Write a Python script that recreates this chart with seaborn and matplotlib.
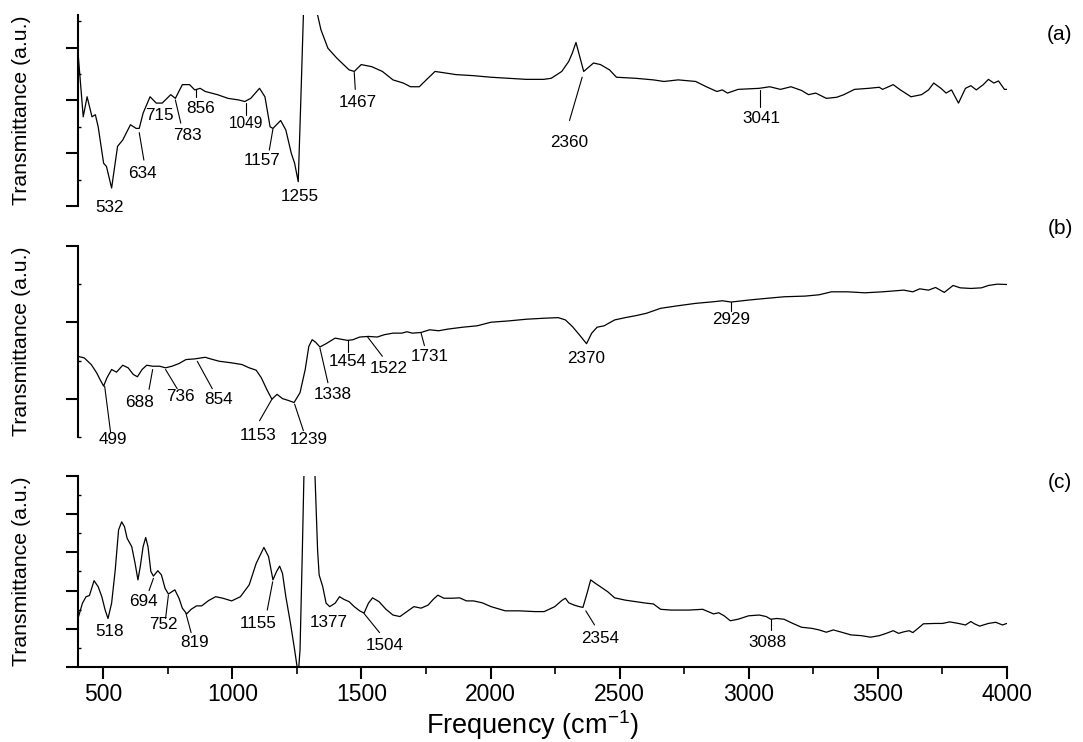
import numpy as np
import pandas as pd
import matplotlib
matplotlib.use("Agg")
import matplotlib.pyplot as plt
import seaborn as sns

# ---------------- data ----------------
wn_a = [400, 422, 437, 456, 469, 480, 501, 512, 532, 555, 575, 605, 627, 639, 654, 681, 705, 728,
        761, 779, 806, 834, 854, 875, 895, 942, 983, 1024, 1048, 1071, 1105, 1126, 1146, 1157,
        1187, 1207, 1228, 1241, 1255, 1265, 1275, 1290, 1310, 1330, 1343, 1370, 1405, 1452, 1472,
        1499, 1540, 1581, 1622, 1662, 1690, 1724, 1751, 1785, 1826, 1866, 1934, 2002, 2070, 2138,
        2206, 2235, 2276, 2303, 2317, 2331, 2361, 2399, 2426, 2461, 2488, 2563, 2631, 2672, 2727,
        2795, 2836, 2877, 2898, 2918, 2959, 3041, 3082, 3123, 3164, 3205, 3232, 3260, 3301, 3341,
        3369, 3410, 3465, 3506, 3519, 3560, 3588, 3629, 3670, 3697, 3717, 3745, 3765, 3786, 3813,
        3840, 3861, 3882, 3909, 3929, 3950, 3968, 3991, 4000]
tr_a = [3.02, 1.69, 2.07, 1.69, 1.73, 1.50, 0.81, 0.75, 0.34, 1.13, 1.25, 1.54, 1.47, 1.47, 1.76, 2.07,
        1.95, 1.95, 2.11, 2.04, 2.30, 2.30, 2.20, 2.23, 2.17, 2.11, 2.04, 2.01, 1.98, 2.04, 2.23, 2.07,
        1.50, 1.47, 1.62, 1.44, 1.00, 0.81, 0.46, 2.00, 3.62, 5.00, 5.00, 3.62, 3.34, 2.99, 2.80, 2.58,
        2.55, 2.68, 2.64, 2.55, 2.39, 2.33, 2.26, 2.26, 2.39, 2.55, 2.52, 2.49, 2.47, 2.44, 2.42, 2.40,
        2.40, 2.42, 2.55, 2.74, 2.90, 3.10, 2.55, 2.71, 2.68, 2.58, 2.44, 2.42, 2.39, 2.36, 2.39,
        2.36, 2.26, 2.17, 2.20, 2.14, 2.21, 2.23, 2.26, 2.21, 2.26, 2.19, 2.11, 2.14, 2.04, 2.06,
        2.11, 2.21, 2.23, 2.25, 2.21, 2.30, 2.20, 2.07, 2.11, 2.20, 2.33, 2.23, 2.14, 2.20, 1.95,
        2.23, 2.28, 2.20, 2.30, 2.40, 2.33, 2.37, 2.21, 2.21]

wn_b = [400, 426, 453, 474, 487, 501, 514, 532, 551, 575, 596, 616, 632, 650, 668, 691, 718, 741,
        766, 793, 820, 854, 895, 915, 949, 997, 1037, 1065, 1092, 1112, 1133, 1153, 1173, 1194,
        1214, 1239, 1262, 1282, 1296, 1309, 1323, 1339, 1363, 1398, 1418, 1446, 1467, 1493, 1527,
        1561, 1588, 1622, 1656, 1676, 1697, 1731, 1764, 1799, 1833, 1893, 1948, 2002, 2070, 2138,
        2206, 2262, 2290, 2317, 2344, 2372, 2392, 2413, 2440, 2481, 2522, 2563, 2604, 2659, 2727,
        2795, 2864, 2898, 2932, 3000, 3068, 3137, 3219, 3273, 3321, 3383, 3451, 3519, 3601, 3636,
        3663, 3697, 3724, 3758, 3792, 3820, 3861, 3902, 3929, 3963, 4000]
tr_b = [1.056, 1.035, 0.948, 0.840, 0.753, 0.666, 0.775, 0.883, 0.848, 0.939, 0.905, 0.818, 0.788,
        0.883, 0.939, 0.926, 0.926, 0.905, 0.926, 0.961, 1.013, 1.022, 1.043, 1.022, 0.991, 0.970,
        0.948, 0.905, 0.874, 0.775, 0.623, 0.494, 0.558, 0.502, 0.481, 0.451, 0.580, 0.883, 1.186,
        1.273, 1.238, 1.178, 1.221, 1.294, 1.281, 1.264, 1.273, 1.308, 1.316, 1.308, 1.338, 1.359,
        1.359, 1.377, 1.359, 1.368, 1.403, 1.390, 1.411, 1.437, 1.455, 1.502, 1.519, 1.541, 1.554,
        1.562, 1.532, 1.446, 1.338, 1.221, 1.359, 1.437, 1.455, 1.532, 1.562, 1.588, 1.619, 1.684,
        1.718, 1.749, 1.770, 1.783, 1.766, 1.792, 1.814, 1.835, 1.844, 1.861, 1.900, 1.900, 1.887,
        1.900, 1.922, 1.900, 1.939, 1.922, 1.957, 1.892, 1.983, 1.952, 1.944, 1.952, 1.983, 2.000,
        1.996]

wn_c = [400, 419, 433, 446, 464, 480, 494, 507, 518, 532, 546, 559, 571, 582, 592, 610, 623, 634,
        643, 654, 664, 673, 684, 694, 711, 725, 739, 752, 766, 777, 793, 806, 823, 840, 861, 881,
        908, 935, 963, 997, 1031, 1065, 1092, 1122, 1140, 1157, 1171, 1183, 1194, 1207, 1225, 1241,
        1255, 1262, 1271, 1277, 1290, 1310, 1320, 1330, 1336, 1350, 1363, 1377, 1398, 1415, 1432,
        1452, 1472, 1493, 1510, 1527, 1543, 1568, 1595, 1622, 1649, 1676, 1703, 1731, 1758, 1778,
        1796, 1819, 1853, 1880, 1907, 1934, 1968, 2002, 2057, 2111, 2172, 2208, 2249, 2276, 2290,
        2303, 2324, 2344, 2358, 2374, 2388, 2406, 2426, 2454, 2481, 2522, 2563, 2604, 2631, 2659,
        2700, 2768, 2822, 2843, 2864, 2884, 2905, 2929, 2959, 3000, 3041, 3068, 3086, 3109, 3137,
        3171, 3205, 3246, 3273, 3301, 3328, 3355, 3396, 3437, 3472, 3506, 3533, 3560, 3581, 3601,
        3622, 3636, 3656, 3677, 3724, 3751, 3779, 3813, 3840, 3861, 3875, 3895, 3929, 3957, 3984,
        4000]
tr_c = [1.23, 1.67, 1.84, 1.87, 2.26, 2.10, 1.84, 1.49, 1.27, 1.67, 2.54, 3.59, 3.80, 3.67, 3.37,
        3.15, 2.71, 2.28, 2.63, 3.15, 3.39, 3.15, 2.50, 2.38, 2.52, 2.41, 2.06, 1.91, 1.97, 2.02,
        1.80, 1.54, 1.39, 1.51, 1.60, 1.60, 1.74, 1.84, 1.80, 1.73, 1.84, 2.15, 2.71, 3.13, 2.89,
        2.28, 2.50, 2.64, 2.45, 1.84, 1.14, 0.45, -0.20, 0.45, 3.06, 5.00, 6.00, 6.00, 5.00, 3.06,
        2.41, 2.10, 1.67, 1.58, 1.67, 1.84, 1.77, 1.71, 1.58, 1.47, 1.41, 1.67, 1.81, 1.71, 1.51,
        1.36, 1.32, 1.45, 1.58, 1.54, 1.62, 1.77, 1.88, 1.80, 1.80, 1.81, 1.73, 1.73, 1.68, 1.58,
        1.47, 1.47, 1.45, 1.45, 1.58, 1.74, 1.80, 1.68, 1.62, 1.58, 1.56, 1.93, 2.28, 2.19, 2.10,
        1.97, 1.81, 1.75, 1.71, 1.67, 1.65, 1.51, 1.49, 1.49, 1.51, 1.45, 1.39, 1.42, 1.34, 1.21,
        1.25, 1.34, 1.36, 1.32, 1.25, 1.27, 1.25, 1.14, 1.04, 1.01, 0.97, 0.91, 0.97, 0.92, 0.84,
        0.82, 0.78, 0.82, 0.88, 0.95, 0.88, 0.92, 0.95, 0.90, 1.01, 1.13, 1.14, 1.14, 1.18, 1.14,
        1.10, 1.19, 1.13, 1.07, 1.14, 1.17, 1.10, 1.14]

panel_labels = ["(a)", "(b)", "(c)"]
x_ticks = [500, 1000, 1500, 2000, 2500, 3000, 3500, 4000]
x_minor = [750, 1250, 1750, 2250, 2750, 3250, 3750]

# peak labels: text, text x, text y, leader (x0, y0, x1, y1) or None, small font flag
peaks_a = [("532", 524, -0.02, None, False),
           ("634", 650, 0.62, (639, 1.39, 657, 0.87), False),
           ("715", 718, 1.71, None, False),
           ("783", 824, 1.33, (779, 2.01, 800, 1.57), False),
           ("856", 875, 1.85, (857, 2.21, 857, 2.07), False),
           ("1049", 1051, 1.56, (1051, 1.96, 1051, 1.73), True),
           ("1157", 1116, 0.86, (1157, 1.46, 1143, 1.06), False),
           ("1255", 1262, 0.18, None, False),
           ("1467", 1486, 1.96, (1472, 2.53, 1476, 2.21), False),
           ("2360", 2303, 1.20, (2355, 2.44, 2306, 1.62), False),
           ("3041", 3048, 1.65, (3044, 2.19, 3044, 1.87), False)]
peaks_b = [("499", 535, -0.035, (505, 0.666, 528, 0.061), False),
           ("688", 641, 0.45, (691, 0.883, 677, 0.623), False),
           ("736", 797, 0.536, (741, 0.883, 786, 0.632), False),
           ("854", 945, 0.49, (864, 0.99, 922, 0.632), False),
           ("1153", 1098, 0.017, (1153, 0.494, 1105, 0.212), False),
           ("1239", 1296, -0.035, (1241, 0.43, 1275, 0.082), False),
           ("1338", 1388, 0.558, (1339, 1.165, 1370, 0.71), False),
           ("1454", 1446, 0.99, (1446, 1.264, 1446, 1.108), False),
           ("1522", 1606, 0.892, (1524, 1.308, 1581, 1.056), False),
           ("1731", 1764, 1.056, (1731, 1.359, 1744, 1.195), False),
           ("2370", 2369, 1.022, None, False),
           ("2929", 2932, 1.541, (2932, 1.766, 2932, 1.653), False)]
peaks_c = [("518", 524, 0.92, None, False),
           ("694", 654, 1.71, (694, 2.32, 677, 2.0), False),
           ("752", 732, 1.10, (752, 1.88, 741, 1.27), False),
           ("819", 854, 0.64, (820, 1.40, 840, 0.90), False),
           ("1155", 1098, 1.13, (1156, 2.23, 1135, 1.49), False),
           ("1377", 1373, 1.16, None, False),
           ("1504", 1592, 0.55, (1510, 1.40, 1570, 0.90), False),
           ("2354", 2423, 0.75, (2369, 1.47, 2403, 1.10), False),
           ("3088", 3075, 0.64, (3086, 1.25, 3086, 0.97), False)]

# ---------------- style ----------------
sns.set_theme(style="ticks")
plt.rcParams["font.family"] = ["Liberation Sans", "DejaVu Sans"]
plt.rcParams["mathtext.fontset"] = "custom"
plt.rcParams["mathtext.rm"] = "Liberation Sans"
plt.rcParams["mathtext.it"] = "Liberation Sans:italic"
plt.rcParams["mathtext.bf"] = "Liberation Sans:bold"
for key in ["text.color", "axes.labelcolor", "xtick.color", "ytick.color", "axes.edgecolor"]:
    plt.rcParams[key] = "black"

fig = plt.figure(figsize=(10.83, 7.42), dpi=100)
left, width, height = 0.0716, 0.858, 0.2574
bottoms = [0.7224, 0.4111, 0.1011]
ylims = [(0, 3.62), (0, 2.5), (0, 5)]
ymaj = [[0, 1, 2, 3], [0.5, 1.5, 2.5], [0, 1, 2, 3, 4, 5]]
ymin = [[0.5, 1.5, 2.5, 3.5], [0, 1, 2], [0.5, 1.5, 2.5, 3.5, 4.5]]
series = [(wn_a, tr_a), (wn_b, tr_b), (wn_c, tr_c)]
peaks = [peaks_a, peaks_b, peaks_c]
label_y = [34, 229, 482]

for i in range(3):
    ax = fig.add_axes([left, bottoms[i], width, height])
    df = pd.DataFrame({"wn": series[i][0], "T": series[i][1]})
    sns.lineplot(data=df, x="wn", y="T", ax=ax, color="black", linewidth=0.9,
                 estimator=None, sort=False)
    ax.set_xlim(400, 4000)
    ax.set_ylim(*ylims[i])
    ax.set_yticks(ymaj[i])
    ax.set_yticks(ymin[i], minor=True)
    ax.tick_params(axis="y", which="major", direction="out", length=8.6, width=1.5,
                   labelleft=False)
    ax.tick_params(axis="y", which="minor", direction="in", length=2, width=1,
                   labelleft=False)
    for s in ["top", "right"]:
        ax.spines[s].set_visible(False)
    ax.spines["left"].set_linewidth(1.5)
    ax.set_ylabel("Transmittance (a.u.)", fontsize=15.3)
    ax.yaxis.set_label_coords(-0.05, 0.5)
    if i < 2:
        ax.spines["bottom"].set_visible(False)
        ax.tick_params(axis="x", which="both", bottom=False, labelbottom=False)
        ax.set_xlabel("")
    else:
        ax.spines["bottom"].set_linewidth(1.5)
        ax.set_xticks(x_ticks)
        ax.set_xticks(x_minor, minor=True)
        ax.tick_params(axis="x", which="major", direction="out", length=8.6, width=1.5,
                       labelsize=16.5, pad=3)
        ax.tick_params(axis="x", which="minor", direction="out", length=5, width=1.2)
        ax.set_xlabel(r"Frequency (cm$^{-1}$)", fontsize=19.5)
        ax.xaxis.set_label_coords(0.49, -0.215)
    for txt, tx, ty, ld, small in peaks[i]:
        ax.text(tx, ty, txt, ha="center", va="center", fontsize=11.2 if small else 12.3,
                clip_on=False)
        if ld is not None:
            ax.plot([ld[0], ld[2]], [ld[1], ld[3]], color="black", linewidth=0.8,
                    clip_on=False)
    fig.text(1060 / 1083, 1 - label_y[i] / 742, panel_labels[i], ha="center",
             va="center", fontsize=15)

fig.savefig("out.png", dpi=100)
